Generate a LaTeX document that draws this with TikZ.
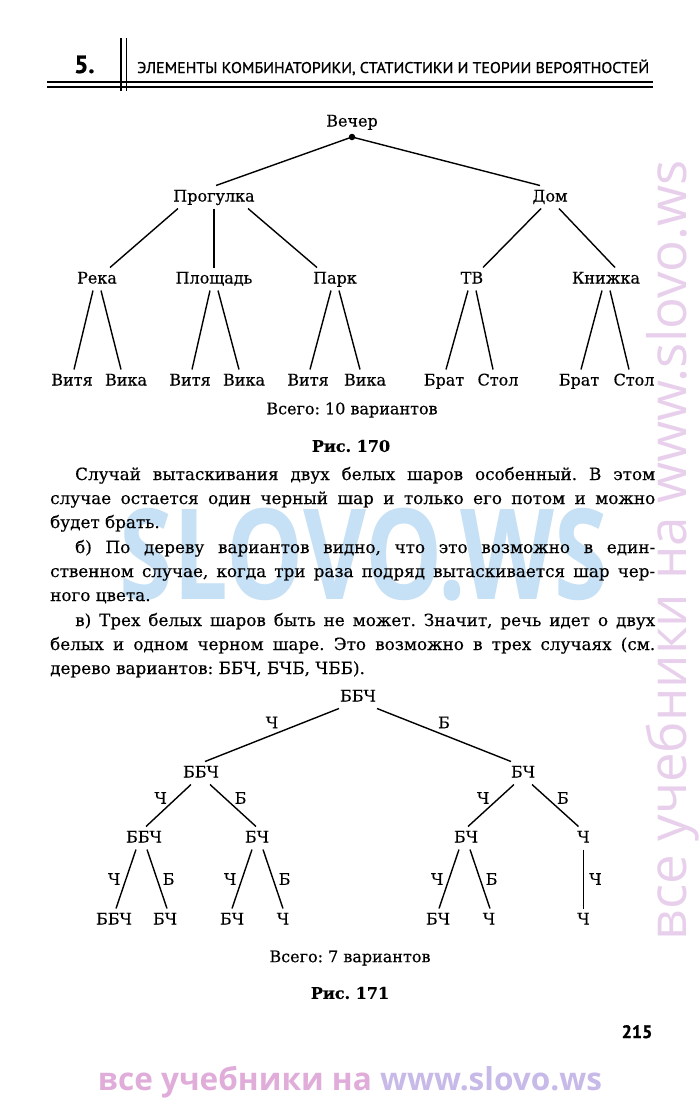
\documentclass[tikz,border=0pt]{standalone}
\usepackage{fontspec}
\setmainfont{DejaVu Serif}[FakeBold=0.4]
\newfontfamily\headfont{PT Sans}[FakeBold=1]
\newfontfamily\wmfont{Open Sans}
\definecolor{wmblue}{RGB}{198,224,245}
\definecolor{wmpink}{RGB}{224,172,218}
\definecolor{wmlilac}{RGB}{200,186,232}
\definecolor{wmside}{RGB}{232,208,236}
\frenchspacing

\begin{document}
\begin{tikzpicture}[x=1pt,y=-1pt,font=\fontsize{16}{19}\selectfont]
  \tikzstyle{lbl}=[inner sep=0pt,outer sep=4pt,text height=12pt,text depth=3pt]
  \tikzstyle{edge}=[line width=1.4pt]
  \tikzstyle{elbl}=[inner sep=1pt]
  \tikzstyle{txtline}=[anchor=base west,inner sep=0pt,font=\fontsize{16.8}{20}\selectfont]
  \useasboundingbox[fill=white] (0,0) rectangle (700,1098);

  % watermarks
  \node[inner sep=0pt,text=wmblue] (wmMid) at (364,555) {\resizebox{488pt}{\height}{\wmfont\bfseries\fontsize{126}{126}\selectfont SLOVO.WS}};
  \node[rotate=90,inner sep=0pt,text=wmside] (wmSide) at (673,550) {\resizebox{780pt}{!}{\wmfont\fontsize{50}{50}\selectfont все учебники на www.slovo.ws}};
  \node[inner sep=0pt] (wmFoot) at (350,1082) {\resizebox{504pt}{!}{\wmfont\bfseries\fontsize{30}{30}\selectfont\textcolor{wmpink}{все учебники на} \textcolor{wmlilac}{www.slovo.ws}}};

  % header
  \node[anchor=base west,inner sep=0pt] (chapNo) at (74,73) {\headfont\bfseries\fontsize{25}{25}\selectfont 5.};
  \node[anchor=base west,inner sep=0pt] (chapTitle) at (137,73) {\resizebox{512pt}{\height}{\headfont\fontsize{15.5}{15.5}\selectfont ЭЛЕМЕНТЫ КОМБИНАТОРИКИ, СТАТИСТИКИ И ТЕОРИИ ВЕРОЯТНОСТЕЙ}};
  \draw[line width=2pt] (47,82) -- (653,82) (47,87) -- (653,87);
  \draw[line width=1.8pt] (121,38) -- (121,91) (126.5,38) -- (126.5,91);

  % fig 170
  \node[lbl] (vecher) at (352,122) {Вечер};
  \node[circle,fill,inner sep=0pt,minimum size=6.5pt] (root) at (352,137) {};
  \node[lbl] (progulka) at (214,197) {Прогулка};
  \node[lbl] (dom) at (550,197) {Дом};
  \node[lbl] (reka) at (97,279) {Река};
  \node[lbl] (ploshad) at (214,279) {Площадь};
  \node[lbl] (park) at (335,279) {Парк};
  \node[lbl] (tv) at (472,279) {ТВ};
  \node[lbl] (knizhka) at (606,279) {Книжка};
  \node[lbl] (vitya1) at (72,381) {Витя};
  \node[lbl] (vika1) at (126,381) {Вика};
  \node[lbl] (vitya2) at (190,381) {Витя};
  \node[lbl] (vika2) at (244,381) {Вика};
  \node[lbl] (vitya3) at (308,381) {Витя};
  \node[lbl] (vika3) at (365,381) {Вика};
  \node[lbl] (brat1) at (444,381) {Брат};
  \node[lbl] (stol1) at (498,381) {Стол};
  \node[lbl] (brat2) at (579,381) {Брат};
  \node[lbl] (stol2) at (634,381) {Стол};
  \draw[edge] (root.center) -- ([xshift=2pt]progulka.north);
  \draw[edge] (root.center) -- ([xshift=-10pt]dom.north);
  \draw[edge] ([xshift=-36pt]progulka.south) -- ([xshift=13pt]reka.north);
  \draw[edge] (progulka.south) -- (ploshad.north);
  \draw[edge] ([xshift=34pt]progulka.south) -- ([xshift=-18pt]park.north);
  \draw[edge] ([xshift=-9pt]dom.south) -- ([xshift=11pt]tv.north);
  \draw[edge] ([xshift=9pt]dom.south) -- ([xshift=9pt]knizhka.north);
  \foreach \p/\l/\r in {reka/vitya1/vika1,ploshad/vitya2/vika2,park/vitya3/vika3,tv/brat1/stol1,knizhka/brat2/stol2} {
    \draw[edge] ([xshift=-4pt]\p.south) -- ([xshift=2pt]\l.north);
    \draw[edge] ([xshift=4pt]\p.south) -- ([xshift=-5pt]\r.north);
  }
  \node (total1) at (352,410) {Всего: 10 вариантов};
  \node[font=\fontsize{16}{19}\selectfont\bfseries] (fig1) at (351,446) {Рис. 170};

  % text
  \node[txtline] (txt1) at (75,480) {\makebox[580pt][s]{Случай вытаскивания двух белых шаров особенный. В этом}};
  \node[txtline] (txt2) at (50,504) {\makebox[605pt][s]{случае остается один черный шар и только его потом и можно}};
  \node[txtline] (txt3) at (50,528) {будет брать.};
  \node[txtline] (txt4) at (75,553) {\makebox[580pt][s]{б) По дереву вариантов видно, что это возможно в един-}};
  \node[txtline] (txt5) at (50,577) {\makebox[605pt][s]{ственном случае, когда три раза подряд вытаскивается шар чер-}};
  \node[txtline] (txt6) at (50,601) {ного цвета.};
  \node[txtline] (txt7) at (75,626) {\makebox[580pt][s]{в) Трех белых шаров быть не может. Значит, речь идет о двух}};
  \node[txtline] (txt8) at (50,650) {\makebox[605pt][s]{белых и одном черном шаре. Это возможно в трех случаях (см.}};
  \node[txtline] (txt9) at (50,674) {дерево вариантов: ББЧ, БЧБ, ЧББ).};

  % fig 171
  \node[lbl] (bbch0) at (358,697) {ББЧ};
  \node[lbl] (bbch1) at (201,773) {ББЧ};
  \node[lbl] (bch1) at (523,773) {БЧ};
  \node[lbl] (bbch2) at (144,838) {ББЧ};
  \node[lbl] (bch2a) at (257,838) {БЧ};
  \node[lbl] (bch2b) at (466,838) {БЧ};
  \node[lbl] (ch2) at (583.5,838) {Ч};
  \node[lbl] (bbch3) at (114,920) {ББЧ};
  \node[lbl] (bch3a) at (165,920) {БЧ};
  \node[lbl] (bch3b) at (232,920) {БЧ};
  \node[lbl] (ch3a) at (283,920) {Ч};
  \node[lbl] (bch3c) at (438,920) {БЧ};
  \node[lbl] (ch3b) at (489,920) {Ч};
  \node[lbl] (ch3c) at (583.5,920) {Ч};
  \draw[edge] ([xshift=-19pt]bbch0.south) -- node[elbl,above=5pt] (lb1) {Ч} ([xshift=4pt]bbch1.north);
  \draw[edge] ([xshift=19pt]bbch0.south) -- node[elbl,above=5pt] (lb2) {Б} ([xshift=-12pt]bch1.north);
  \draw[edge] ([xshift=-10pt]bbch1.south) -- node[elbl,above left] (lb3) {Ч} ([xshift=2pt]bbch2.north);
  \draw[edge] ([xshift=9pt]bbch1.south) -- node[elbl,above right] (lb4) {Б} ([xshift=-1pt]bch2a.north);
  \draw[edge] ([xshift=-9pt]bch1.south) -- node[elbl,above left] (lb5) {Ч} ([xshift=2pt]bch2b.north);
  \draw[edge] ([xshift=9pt]bch1.south) -- node[elbl,above right] (lb6) {Б} ([xshift=-5pt]ch2.north);
  \draw[edge] ([xshift=-8pt]bbch2.south) -- node[elbl,left=4pt] (lb7) {Ч} ([xshift=2pt]bbch3.north);
  \draw[edge] ([xshift=3pt]bbch2.south) -- node[elbl,right=4pt] (lb8) {Б} ([xshift=2pt]bch3a.north);
  \draw[edge] ([xshift=-5pt]bch2a.south) -- node[elbl,left=4pt] (lb9) {Ч} (bch3b.north);
  \draw[edge] ([xshift=6pt]bch2a.south) -- node[elbl,right=4pt] (lb10) {Б} (ch3a.north);
  \draw[edge] ([xshift=-7pt]bch2b.south) -- node[elbl,left=4pt] (lb11) {Ч} ([xshift=1pt]bch3c.north);
  \draw[edge] ([xshift=4pt]bch2b.south) -- node[elbl,right=4pt] (lb12) {Б} ([xshift=1pt]ch3b.north);
  \draw[edge] (ch2.south) -- node[elbl,right=4pt] (lb13) {Ч} (ch3c.north);
  \node (total2) at (350,958) {Всего: 7 вариантов};
  \node[font=\fontsize{16}{19}\selectfont\bfseries] (fig2) at (350,993) {Рис. 171};

  \node[anchor=base,inner sep=0pt] (pageNo) at (637,1038) {\headfont\bfseries\fontsize{18}{18}\selectfont 215};
\end{tikzpicture}
\end{document}
